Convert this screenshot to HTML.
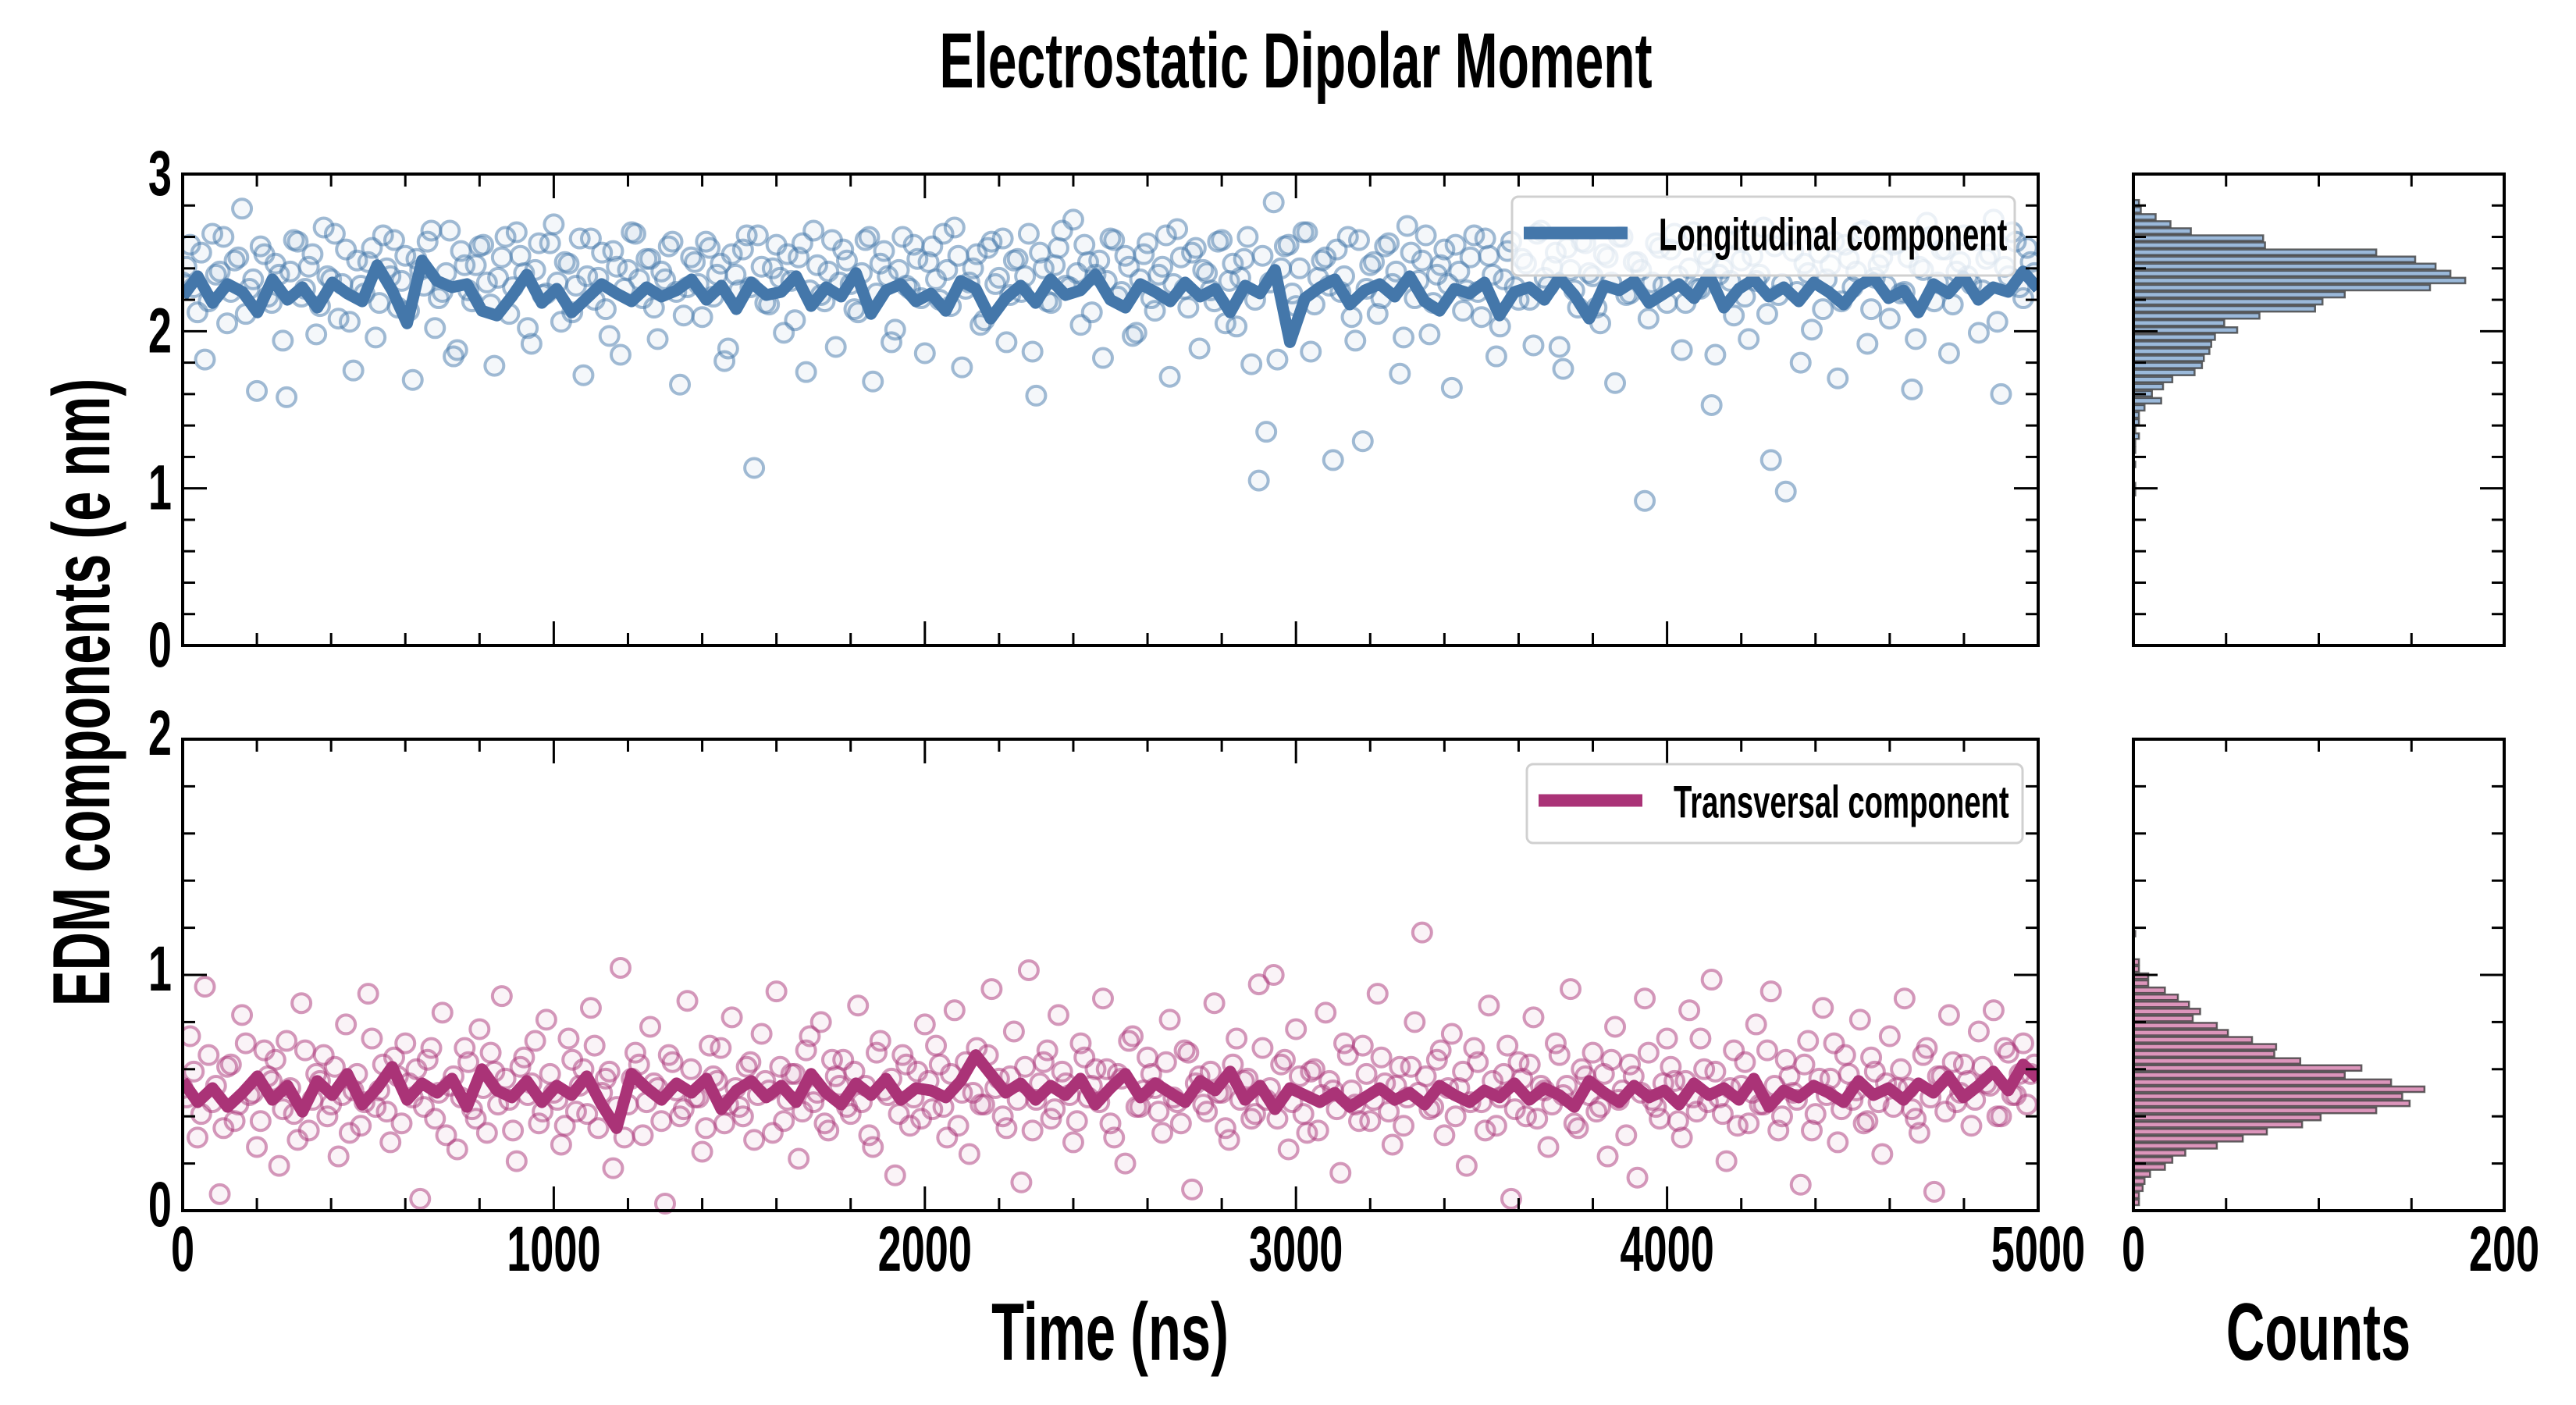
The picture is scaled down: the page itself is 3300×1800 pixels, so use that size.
<!DOCTYPE html>
<html><head><meta charset="utf-8">
<style>
html,body{margin:0;padding:0;background:#fff;}
svg{display:block;}
text{font-family:"Liberation Sans","DejaVu Sans",sans-serif;font-weight:bold;fill:#000;}
</style></head>
<body>
<svg id="chart" width="3300" height="1800" viewBox="0 0 3300 1800" xmlns="http://www.w3.org/2000/svg"></svg>
<script>
const topScatter=[2.31,2.55,2.12,1.82,2.62,2.38,2.05,2.45,2.78,2.27,1.62,2.49,2.18,2.36,1.58,2.58,2.22,2.41,1.98,2.66,2.33,2.08,2.52,1.75,2.29,2.44,1.96,2.61,2.35,2.15,2.48,1.69,2.39,2.57,2.02,2.25,2.64,1.88,2.42,2.19,2.54,2.31,1.78,2.47,2.11,2.63,2.37,1.92,2.56,2.24,2.68,2.06,2.43,2.29,1.72,2.59,2.34,2.14,2.51,1.85,2.39,2.62,2.21,2.46,1.95,2.33,2.57,1.66,2.28,2.44,2.09,2.53,2.36,1.81,2.49,2.26,2.61,1.13,2.41,2.17,2.55,1.99,2.32,2.47,1.74,2.64,2.23,2.38,1.90,2.52,2.30,2.12,2.58,1.68,2.43,2.35,2.01,2.60,2.27,2.46,1.86,2.54,2.20,2.39,2.66,1.77,2.31,2.49,2.07,2.57,2.34,1.93,2.45,2.25,2.62,1.59,2.40,2.18,2.53,2.29,2.71,2.04,2.44,2.36,1.83,2.59,2.22,2.48,1.97,2.33,2.56,2.13,2.41,1.71,2.65,2.27,2.50,1.89,2.37,2.19,2.58,2.32,2.03,2.46,1.79,1.05,1.36,2.82,2.40,2.55,2.16,2.63,1.87,2.34,2.47,1.18,2.25,2.60,1.94,1.30,2.42,2.11,2.54,2.30,1.73,2.67,2.21,2.45,1.98,2.36,2.52,1.64,2.38,2.26,2.61,2.09,2.48,1.84,2.33,2.57,2.20,2.43,1.91,2.64,2.29,2.50,1.76,2.39,2.15,2.56,2.35,2.05,2.47,1.67,2.60,2.24,2.44,0.92,2.31,2.53,2.18,2.62,1.88,2.40,2.27,2.49,1.53,2.36,2.58,2.10,2.45,1.95,2.32,2.66,1.18,2.23,0.98,2.51,1.80,2.37,2.59,2.14,2.42,1.70,2.55,2.28,2.63,1.92,2.34,2.47,2.08,2.56,2.25,1.63,2.41,2.69,2.19,2.52,1.86,2.38,2.61,2.30,1.99,2.46,2.71,1.60,2.35,2.57,2.21,2.44];
const topScatterB=[2.41,2.28,2.50,2.19,2.36,2.60,2.25,2.47,2.11,2.33,2.54,2.22,2.43,1.94,2.38,2.57,2.27,2.49,2.16,2.35,2.62,2.30,2.06,2.45,2.24,2.53,2.18,2.40,2.58,2.32,2.13,2.46,2.29,2.64,2.21,2.37,1.84,2.51,2.26,2.42,2.55,2.17,2.34,2.60,2.28,2.48,2.02,2.39,2.23,2.56,2.31,2.44,2.12,2.59,2.35,2.20,2.50,1.97,2.41,2.27,2.63,2.33,2.46,2.15,2.38,2.54,2.25,2.10,2.47,2.30,2.57,2.22,2.43,1.89,2.36,2.52,2.28,2.61,2.18,2.40,2.34,2.49,2.07,2.56,2.26,2.42,2.19,2.58,2.31,2.45,2.14,2.37,2.60,2.24,2.51,1.93,2.39,2.29,2.55,2.21,2.44,2.33,2.62,2.16,2.48,2.27,2.40,2.04,2.53,2.30,2.59,2.23,2.46,2.35,1.87,2.50,2.19,2.42,2.64,2.28,2.37,2.55,2.12,2.45,2.32,2.58,2.25,2.41,1.99,2.49,2.21,2.36,2.61,2.30,2.47,2.15,2.53,2.39,2.26,2.57,2.05,2.43,2.34,2.60,2.20,2.48,2.31,1.82,2.54,2.24,2.40,2.63,2.17,2.45,2.29,2.52,2.35,2.09,2.58,2.27,2.44,2.21,2.56,2.38,1.96,2.50,2.32,2.61,2.18,2.42,2.30,2.55,2.13,2.47,2.25,2.59,2.36,2.03,2.51,2.28,2.46,2.20,2.62,2.34,2.41,1.90,2.53,2.26,2.57,2.37,2.15,2.49,2.31,2.60,2.23,2.44,2.39,2.08,2.56,2.29,2.52,2.35,2.18,2.63,2.27,2.45,1.85,2.40,2.32,2.58,2.22,2.48,2.36,2.11,2.54,2.30,2.61,2.25,2.43,2.01,2.50,2.33,2.57,2.19,2.46,2.38,2.64,2.14,2.42,2.29,2.55,2.24,2.47,1.95,2.39,2.60,2.31,2.52,2.17,2.44,2.35,2.58,2.26,2.49,2.06,2.41,2.63,2.28,2.53,2.37];
const bottomScatter=[0.52,0.74,0.31,0.95,0.46,0.07,0.61,0.38,0.83,0.49,0.27,0.68,0.55,0.19,0.72,0.41,0.88,0.34,0.58,0.66,0.45,0.23,0.79,0.51,0.36,0.92,0.44,0.62,0.29,0.57,0.71,0.48,0.05,0.64,0.39,0.84,0.53,0.26,0.69,0.43,0.77,0.33,0.59,0.91,0.47,0.21,0.65,0.54,0.37,0.81,0.50,0.28,0.73,0.42,0.60,0.86,0.35,0.56,0.18,1.03,0.45,0.67,0.32,0.78,0.52,0.03,0.63,0.40,0.89,0.48,0.25,0.70,0.55,0.37,0.82,0.44,0.61,0.30,0.75,0.51,0.93,0.38,0.58,0.22,0.68,0.46,0.80,0.34,0.57,0.64,0.41,0.87,0.53,0.27,0.72,0.49,0.15,0.66,0.36,0.59,0.79,0.43,0.62,0.31,0.85,0.50,0.24,0.69,0.45,0.94,0.56,0.35,0.76,0.12,1.02,0.47,0.63,0.39,0.83,0.54,0.29,0.71,0.48,0.60,0.90,0.37,0.58,0.20,0.74,0.44,0.65,0.52,0.33,0.81,0.46,0.68,0.09,0.57,0.42,0.88,0.50,0.30,0.73,0.55,0.39,0.96,0.47,1.00,0.62,0.26,0.77,0.41,0.59,0.34,0.84,0.51,0.16,0.66,0.45,0.70,0.38,0.92,0.54,0.28,0.61,0.48,0.80,1.18,0.43,0.64,0.32,0.75,0.52,0.19,0.69,0.46,0.87,0.36,0.58,0.05,0.63,0.40,0.82,0.53,0.27,0.71,0.49,0.94,0.35,0.57,0.67,0.44,0.23,0.78,0.51,0.62,0.14,0.90,0.47,0.39,0.73,0.55,0.31,0.85,0.42,0.60,0.98,0.48,0.21,0.68,0.53,0.37,0.79,0.45,0.93,0.34,0.64,0.50,0.11,0.72,0.41,0.86,0.56,0.29,0.66,0.47,0.81,0.38,0.59,0.24,0.74,0.52,0.90,0.43,0.33,0.69,0.08,0.57,0.83,0.46,0.62,0.36,0.76,0.54,0.85,0.40,0.67,0.49,0.71,0.58];
const bottomScatterB=[0.48,0.59,0.41,0.66,0.53,0.35,0.62,0.45,0.71,0.50,0.38,0.57,0.64,0.43,0.52,0.30,0.68,0.47,0.55,0.40,0.61,0.49,0.33,0.58,0.46,0.73,0.51,0.42,0.65,0.37,0.54,0.60,0.44,0.69,0.50,0.32,0.57,0.48,0.63,0.39,0.52,0.67,0.45,0.56,0.34,0.61,0.49,0.72,0.42,0.58,0.47,0.36,0.64,0.53,0.41,0.70,0.50,0.59,0.44,0.31,0.56,0.62,0.46,0.54,0.38,0.66,0.51,0.43,0.60,0.48,0.35,0.57,0.69,0.45,0.52,0.40,0.63,0.49,0.55,0.33,0.61,0.47,0.58,0.42,0.74,0.50,0.37,0.64,0.53,0.44,0.59,0.46,0.32,0.67,0.51,0.56,0.41,0.62,0.48,0.39,0.55,0.70,0.44,0.58,0.36,0.63,0.50,0.45,0.66,0.52,0.40,0.57,0.47,0.61,0.34,0.54,0.68,0.43,0.59,0.49,0.38,0.65,0.53,0.46,0.60,0.31,0.56,0.72,0.44,0.51,0.58,0.42,0.63,0.48,0.37,0.67,0.54,0.45,0.59,0.50,0.35,0.62,0.47,0.56,0.41,0.69,0.52,0.39,0.64,0.46,0.57,0.33,0.60,0.49,0.55,0.43,0.71,0.51,0.38,0.58,0.47,0.65,0.42,0.53,0.36,0.61,0.50,0.57,0.44,0.68,0.52,0.40,0.59,0.46,0.63,0.34,0.55,0.48,0.70,0.43,0.56,0.62,0.39,0.51,0.45,0.66,0.53,0.37,0.60,0.49,0.42,0.58,0.64,0.47,0.32,0.57,0.50,0.67,0.44,0.54,0.61,0.38,0.55,0.48,0.73,0.46,0.59,0.41,0.52,0.36,0.63,0.50,0.45,0.68,0.53,0.40,0.57,0.47,0.62,0.34,0.56,0.49,0.71,0.43,0.58,0.51,0.37,0.65,0.46,0.54,0.44,0.60,0.52,0.39,0.66,0.48,0.57,0.42,0.63,0.50,0.55,0.47,0.61,0.53,0.40,0.69,0.49,0.58,0.45,0.62];
const topLine=[2.22,2.35,2.18,2.30,2.25,2.12,2.33,2.20,2.28,2.15,2.31,2.24,2.19,2.42,2.26,2.05,2.45,2.32,2.28,2.30,2.13,2.10,2.22,2.36,2.18,2.27,2.12,2.21,2.30,2.24,2.19,2.28,2.22,2.26,2.33,2.20,2.29,2.14,2.31,2.23,2.25,2.35,2.16,2.28,2.22,2.37,2.11,2.26,2.30,2.19,2.24,2.13,2.32,2.27,2.08,2.21,2.29,2.18,2.33,2.23,2.26,2.36,2.20,2.15,2.30,2.25,2.19,2.31,2.22,2.27,2.12,2.29,2.24,2.39,1.93,2.21,2.28,2.33,2.17,2.26,2.30,2.22,2.35,2.19,2.13,2.27,2.24,2.31,2.10,2.25,2.28,2.20,2.34,2.23,2.08,2.29,2.26,2.32,2.18,2.24,2.30,2.21,2.36,2.15,2.27,2.33,2.22,2.28,2.19,2.31,2.25,2.17,2.29,2.34,2.21,2.26,2.12,2.30,2.24,2.35,2.20,2.28,2.25,2.38,2.27];
const bottomLine=[0.55,0.46,0.52,0.44,0.50,0.57,0.47,0.53,0.42,0.55,0.49,0.58,0.45,0.52,0.61,0.47,0.54,0.50,0.56,0.44,0.60,0.51,0.48,0.55,0.46,0.53,0.49,0.57,0.45,0.35,0.58,0.52,0.47,0.54,0.50,0.56,0.43,0.51,0.55,0.48,0.53,0.46,0.58,0.50,0.45,0.54,0.49,0.56,0.47,0.52,0.51,0.48,0.55,0.66,0.58,0.50,0.54,0.47,0.53,0.49,0.56,0.45,0.52,0.58,0.48,0.54,0.50,0.46,0.55,0.51,0.59,0.47,0.53,0.43,0.52,0.49,0.46,0.50,0.44,0.48,0.52,0.47,0.50,0.45,0.53,0.49,0.46,0.51,0.48,0.54,0.47,0.52,0.49,0.44,0.55,0.50,0.46,0.53,0.48,0.51,0.45,0.54,0.49,0.52,0.47,0.56,0.44,0.51,0.48,0.53,0.50,0.46,0.55,0.49,0.52,0.47,0.54,0.50,0.57,0.48,0.53,0.59,0.51,0.62,0.56];
const topHistCounts=[3,4,12,20,31,70,71,131,152,163,171,179,160,114,102,98,68,49,56,44,42,41,38,37,33,21,16,10,15,6,3,3,1,3,1,1,0,1,0,0,1,1];
const topHistStart=2.84, topHistWidth=0.045;
const bottomHistCounts=[1,0,0,0,3,3,8,8,17,24,30,36,32,45,51,64,77,76,90,123,114,139,157,145,149,131,101,91,72,59,45,28,21,17,9,6,5,3,3];
const bottomHistStart=1.19, bottomHistWidth=0.03;
const xTickLabels=["0","1000","2000","3000","4000","5000"];
const topYTickLabels=["0","1","2","3"];
const bottomYTickLabels=["0","1","2"];
const countTickLabels=["0","200"];

const NS="http://www.w3.org/2000/svg";
const svg=document.getElementById('chart');
const SX=0.66;
function mk(tag,attrs,parent){const e=document.createElementNS(NS,tag);for(const k in attrs)e.setAttribute(k,attrs[k]);(parent||svg).appendChild(e);return e;}
function txt(s,x,y,size,anchor,parent,rot){
  const tr=rot?`translate(${x},${y}) rotate(-90) scale(${SX},1)`:`translate(${x},${y}) scale(${SX},1)`;
  const e=mk('text',{x:0,y:0,'font-size':size,'text-anchor':anchor||'start',transform:tr},parent);
  e.textContent=s;return e;
}

const MX0=234,MX1=2611,HX0=2733,HX1=3208;
const P1={y0:223,y1:827,ymax:3},P2={y0:947,y1:1551,ymax:2};
const xs=t=>MX0+(t/5000)*(MX1-MX0);
const hx=c=>HX0+(c/200)*(HX1-HX0);
const ysF=p=>v=>p.y1-(v/p.ymax)*(p.y1-p.y0);
const ysTop=ysF(P1), ysBot=ysF(P2);

const title=txt("Electrostatic Dipolar Moment",1660,112,100,'middle');



function drawScatter(vals,ys,color,name,offset){
  const g=mk('g',{});
  
  
  const n=vals.length;
  vals.forEach((v,i)=>{
    const c=mk('circle',{cx:xs(Math.min((i+offset)*5000/n,5000)),cy:ys(v),r:12,fill:color,'fill-opacity':0.06,stroke:color,'stroke-opacity':0.5,'stroke-width':4},g);
    
    
  });
}
function drawLine(vals,ys,color,name){
  const n=vals.length;
  const d=vals.map((v,i)=>(i?'L':'M')+xs(i*5000/(n-1)).toFixed(1)+','+ys(v).toFixed(1)).join('');
  const p=mk('path',{d:d,fill:'none',stroke:color,'stroke-width':15,'stroke-linejoin':'round'});
  
  
}
function frame(x0,y0,x1,y1,name){
  const r=mk('rect',{x:x0,y:y0,width:x1-x0,height:y1-y0,fill:'none',stroke:'#000','stroke-width':4});
  
  
}
function hTicks(y0,y1,pos,major){
  pos.forEach((x,i)=>{const L=major[i]?31:16;
    mk('line',{x1:x,x2:x,y1:y1,y2:y1-L,stroke:'#000','stroke-width':3});
    mk('line',{x1:x,x2:x,y1:y0,y2:y0+L,stroke:'#000','stroke-width':3});});
}
function vTicks(x0,x1,pos,major){
  pos.forEach((y,i)=>{const L=major[i]?31:16;
    mk('line',{x1:x0,x2:x0+L,y1:y,y2:y,stroke:'#000','stroke-width':3});
    mk('line',{x1:x1,x2:x1-L,y1:y,y2:y,stroke:'#000','stroke-width':3});});
}
function yTickSet(p,ys){const pos=[],maj=[];for(let k=0;k<=p.ymax*5;k++){pos.push(ys(k*0.2));maj.push(k%5===0);}return [pos,maj];}

drawScatter(topScatter,ysTop,'#4477aa','longitudinal-scatter',0);
drawScatter(topScatterB,ysTop,'#4477aa','longitudinal-scatter-b',0.5);
drawLine(topLine,ysTop,'#4477aa','longitudinal-line');
drawScatter(bottomScatter,ysBot,'#aa3377','transversal-scatter',0);
drawScatter(bottomScatterB,ysBot,'#aa3377','transversal-scatter-b',0.5);
drawLine(bottomLine,ysBot,'#aa3377','transversal-line');

mk('rect',{x:0,y:0,width:MX0-2,height:1800,fill:'#fff'});
mk('rect',{x:MX1+2,y:0,width:HX0-MX1-10,height:1800,fill:'#fff'});

function drawHist(counts,start,w,ys,fill,name){
  const g=mk('g',{});
  
  
  counts.forEach((c,i)=>{ if(c<=0) return;
    const top=ys(start-i*w), bot=ys(start-(i+1)*w);
    const r=mk('rect',{x:HX0,y:top+1,width:hx(c)-HX0,height:Math.max(bot-top-2,1),fill:fill,stroke:'#333','stroke-opacity':0.75,'stroke-width':2.5},g);
    
    
  });
}
drawHist(topHistCounts,topHistStart,topHistWidth,ysTop,'#9bb9da','longitudinal-histogram');
drawHist(bottomHistCounts,bottomHistStart,bottomHistWidth,ysBot,'#dc95bb','transversal-histogram');

[[P1,ysTop,'top'],[P2,ysBot,'bottom']].forEach(([p,ys,nm])=>{
  frame(MX0,p.y0,MX1,p.y1,nm+'-time-axes');
  frame(HX0,p.y0,HX1,p.y1,nm+'-hist-axes');
  const xp=[],xm=[];for(let k=0;k<=25;k++){xp.push(xs(k*200));xm.push(k%5===0);}
  hTicks(p.y0,p.y1,xp,xm);
  const hp=[],hm=[];for(let k=1;k<4;k++){hp.push(hx(k*50));hm.push(false);}
  hTicks(p.y0,p.y1,hp,hm);
  const [yp,ym]=yTickSet(p,ys);
  vTicks(MX0,MX1,yp,ym);
  vTicks(HX0,HX1,yp,ym);
});

topYTickLabels.forEach((s,i)=>{const t=txt(s,MX0-14,ysTop(i)+27,82,'end');
  });
bottomYTickLabels.forEach((s,i)=>{const t=txt(s,MX0-14,ysBot(i)+20,82,'end');
  });
xTickLabels.forEach((s,i)=>{const t=txt(s,xs(i*1000),1628,82,'middle');
  });
countTickLabels.forEach((s,i)=>{const t=txt(s,hx(i*200),1628,82,'middle');
  });

const xt=txt("Time (ns)",1422,1742,104,'middle');

const ct=txt("Counts",2970,1742,104,'middle');

const yt=txt("EDM components (e nm)",140,887,104,'middle',null,true);


function legend(x0,y0,x1,y1,label,color,name){
  const g=mk('g',{});
  
  
  mk('rect',{x:x0,y:y0,width:x1-x0,height:y1-y0,rx:8,fill:'#fff','fill-opacity':0.8,stroke:'#d0d0d0','stroke-width':3},g);
  mk('line',{x1:x0+15,x2:x0+148,y1:(y0+y1)/2-4,y2:(y0+y1)/2-4,stroke:color,'stroke-width':16},g);
  txt(label,x0+188,(y0+y1)/2+18,58,'start',g);
}
legend(1937,252,2581,353,"Longitudinal component",'#4477aa','legend-longitudinal');
legend(1956,979,2591,1080,"Transversal component",'#aa3377','legend-transversal');
</script>
</body></html>
